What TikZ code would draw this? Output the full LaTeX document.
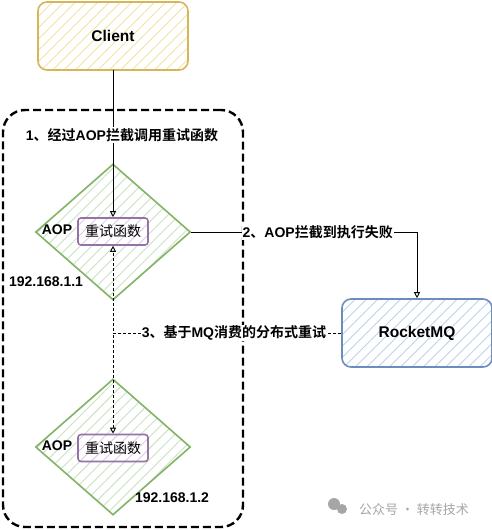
\documentclass[tikz,border=0pt]{standalone}
\usepackage{fontspec}
\setmainfont{Liberation Sans}
\newfontfamily\cjk{Noto Sans CJK SC}[BoldFont={Noto Sans CJK SC Bold}]
\newcommand\zh[1]{{\cjk #1}}
\usetikzlibrary{shapes.geometric,arrows.meta,patterns.meta}
\definecolor{clientline}{HTML}{D6B656}
\definecolor{clienthatch}{HTML}{F2E3A6}
\definecolor{aopline}{HTML}{82B366}
\definecolor{aophatch}{HTML}{C9E3C3}
\definecolor{funcline}{HTML}{9673A6}
\definecolor{funchatch}{HTML}{DCCBE6}
\definecolor{mqline}{HTML}{6C8EBF}
\definecolor{mqhatch}{HTML}{BCD3EE}
\definecolor{wmgray}{HTML}{A6A6A6}

\begin{document}
\begin{tikzpicture}[x=1pt,y=-1pt,font=\bfseries\fontsize{14}{16}\selectfont]
\tikzset{hatch/.style = {pattern={Lines[angle=45,distance=8pt,line width=0.9pt]}},
	BoxStyle/.style =
	{draw,
		shape = rectangle,
		rounded corners = 9pt,
		line width = 1.6pt,
		hatch,
		minimum width = 150pt,
		minimum height = 68pt,
		font = \bfseries\fontsize{15.5}{18}\selectfont},
	AopStyle/.style =
	{draw = aopline,
		shape = diamond,
		line width = 1.6pt,
		hatch, pattern color = aophatch,
		inner sep = 0pt,
		minimum width = 155pt,
		minimum height = 136pt},
	FuncStyle/.style =
	{draw = funcline,
		shape = rectangle,
		rounded corners = 3pt,
		line width = 1.6pt,
		preaction = {fill = white},
		hatch, pattern color = funchatch,
		minimum width = 70pt,
		minimum height = 27pt,
		font = \fontsize{14}{16}\selectfont},
	%GroupStyle/.style = {draw, dashed},
	GroupStyle/.style =
	{draw,
		shape = rectangle,
		rounded corners = 22pt,
		line width = 2.4pt,
		dash pattern = on 8pt off 4pt,
		minimum width = 240pt,
		minimum height = 417pt},
	Flow/.style = {-{Triangle[open,length=6pt,width=6pt]}, line width=0.9pt},
	Retry/.style = {Flow, dash pattern = on 3pt off 2pt},
	Lbl/.style = {fill = white, inner sep = 1pt}}

\fill[white] (0,0) rectangle (492,530);
\useasboundingbox (0,0) rectangle (492,530);

\node[GroupStyle] (grp) at (123,318.5) {};

\node[BoxStyle, draw = clientline, pattern color = clienthatch] (client) at (113,36) {Client};
\node[BoxStyle, draw = mqline, pattern color = mqhatch] (mq) at (417,333) {RocketMQ};

\node[AopStyle] (d1) at (113,232) {};
\node[AopStyle] (d2) at (113,447) {};
\node[FuncStyle] (f1) at (113,231.5) {\zh{重试函数}};
\node[FuncStyle] (f2) at (113,448) {\zh{重试函数}};

\node (aop1) at (57,230) {AOP};
\node (aop2) at (57,446) {AOP};
\node (ip1) at (46,282) {192.168.1.1};
\node (ip2) at (172,498) {192.168.1.2};

\draw[Flow] (client) -- (f1) node[Lbl, pos=0.44, xshift=9pt] {1\zh{、经过}AOP\zh{拦截调用重试函数}};
\draw[Flow] (d1.east) -| (mq.north) node[Lbl, pos=0.28] {2\zh{、}AOP\zh{拦截到执行失败}};
\draw[Retry] (mq.west) -| (f2.north);
\draw[Retry] (mq.west) -| (f1.south) node[Lbl, pos=0.235] {3\zh{、基于}MQ\zh{消费的分布式重试}};

% watermark
\fill[wmgray] (334,504) circle (6pt) (342,509) circle (5pt);
\node[text = wmgray, font = \fontsize{13}{15}\selectfont] (wm) at (414,510) {\zh{公众号 · 转转技术}};

\end{tikzpicture}
\end{document}
